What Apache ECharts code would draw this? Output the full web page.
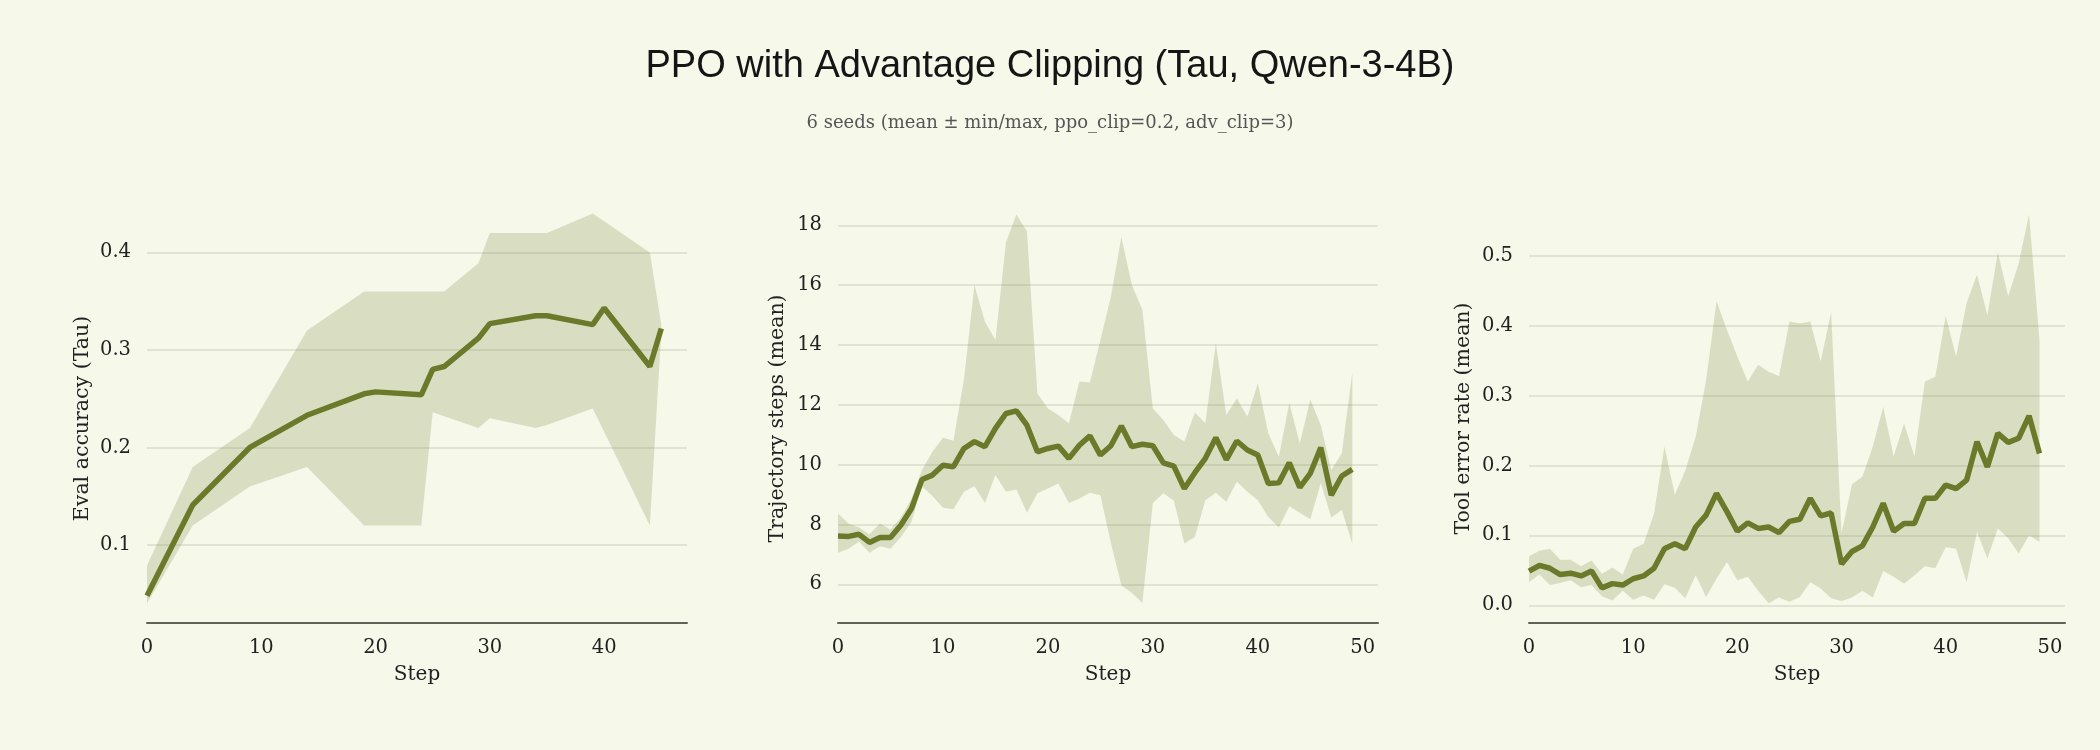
<!DOCTYPE html>
<html>
<head>
  <meta http-equiv="Content-Type" content="text/html; charset=utf-8"/>
  <title>PPO with Advantage Clipping</title>
  <script src="https://cdnjs.cloudflare.com/ajax/libs/echarts/6.0.0/echarts.min.js"></script>
</head>
<body style="margin:0;background:#f6f8ea">
<div id="main" style="width:2100px;height:750px;"></div>
<script type="text/javascript">
// eval accuracy (steps are irregular)
var evalSteps = [0, 4, 9, 14, 19, 20, 24, 25, 26, 29, 30, 34, 35, 39, 40, 44, 45];
var evalMean  = [0.048, 0.141, 0.200, 0.233, 0.255, 0.257, 0.254, 0.280, 0.283, 0.312, 0.327, 0.335, 0.335, 0.326, 0.343, 0.283, 0.322];
var evalMin   = [0.040, 0.120, 0.160, 0.180, 0.120, 0.120, 0.120, 0.236, 0.232, 0.220, 0.230, 0.220, 0.223, 0.240, 0.216, 0.120, 0.318];
var evalMax   = [0.079, 0.180, 0.220, 0.320, 0.360, 0.360, 0.360, 0.360, 0.360, 0.389, 0.420, 0.420, 0.420, 0.440, 0.432, 0.400, 0.326];

// trajectory steps, step 0..49
var trajMean = [7.61, 7.60, 7.67, 7.40, 7.56, 7.56, 7.98, 8.53, 9.50, 9.65,
                9.98, 9.93, 10.54, 10.77, 10.60, 11.21, 11.71, 11.80, 11.32, 10.43,
                10.54, 10.62, 10.21, 10.65, 10.96, 10.32, 10.63, 11.29, 10.60, 10.68,
                10.63, 10.06, 9.95, 9.20, 9.73, 10.21, 10.90, 10.17, 10.79, 10.49,
                10.32, 9.37, 9.39, 10.06, 9.24, 9.71, 10.57, 8.98, 9.62, 9.84];
var trajMin  = [7.05, 7.19, 7.42, 7.05, 7.27, 7.19, 7.58, 8.09, 9.28, 8.95,
                8.56, 8.51, 9.09, 9.28, 8.72, 9.65, 9.09, 9.17, 8.39, 9.04,
                9.20, 9.37, 8.72, 8.87, 9.06, 8.98, 7.38, 5.97, 5.71, 5.37,
                8.72, 9.04, 8.79, 7.36, 7.58, 8.81, 9.06, 8.76, 9.43, 9.09,
                8.81, 8.25, 7.90, 8.61, 8.39, 8.17, 9.39, 8.23, 8.48, 7.36];
var trajMax  = [8.37, 8.03, 7.90, 7.67, 8.03, 7.83, 8.23, 8.87, 9.82, 10.43,
                10.90, 10.80, 12.85, 16.01, 14.78, 14.17, 17.43, 18.36, 17.80, 12.38,
                11.88, 11.66, 11.38, 12.78, 12.75, 14.17, 15.62, 17.61, 16.01, 15.18,
                11.88, 11.49, 10.99, 10.77, 11.74, 11.38, 14.06, 11.66, 12.22, 11.60,
                12.72, 11.05, 10.26, 12.07, 10.71, 12.18, 11.32, 9.82, 10.38, 13.08];

// tool error rate, step 0..49
var toolMean = [0.049, 0.057, 0.053, 0.044, 0.046, 0.042, 0.049, 0.025, 0.031, 0.029,
                0.038, 0.042, 0.053, 0.081, 0.088, 0.081, 0.112, 0.129, 0.160, 0.134,
                0.106, 0.118, 0.110, 0.112, 0.104, 0.120, 0.123, 0.153, 0.128, 0.132,
                0.059, 0.077, 0.085, 0.112, 0.146, 0.106, 0.117, 0.117, 0.153, 0.153,
                0.172, 0.167, 0.179, 0.234, 0.198, 0.246, 0.233, 0.239, 0.271, 0.217];
var toolMin  = [0.033, 0.044, 0.029, 0.032, 0.036, 0.026, 0.029, 0.013, 0.007, 0.021,
                0.008, 0.014, 0.008, 0.030, 0.025, 0.010, 0.043, 0.012, 0.038, 0.062,
                0.036, 0.041, 0.021, 0.003, 0.011, 0.005, 0.012, 0.033, 0.024, 0.010,
                0.006, 0.011, 0.021, 0.011, 0.049, 0.041, 0.031, 0.043, 0.056, 0.053,
                0.083, 0.081, 0.033, 0.105, 0.067, 0.110, 0.096, 0.074, 0.100, 0.091];
var toolMax  = [0.070, 0.078, 0.081, 0.065, 0.065, 0.056, 0.064, 0.045, 0.054, 0.044,
                0.081, 0.088, 0.131, 0.227, 0.158, 0.193, 0.241, 0.322, 0.435, 0.394,
                0.356, 0.320, 0.344, 0.334, 0.328, 0.406, 0.403, 0.406, 0.349, 0.419,
                0.103, 0.173, 0.184, 0.227, 0.284, 0.213, 0.260, 0.213, 0.320, 0.327,
                0.414, 0.356, 0.432, 0.473, 0.415, 0.505, 0.442, 0.489, 0.559, 0.380];

var stepTicks = [[0, 10, 20, 30, 40], [0, 10, 20, 30, 40, 50], [0, 10, 20, 30, 40, 50]];
var yTicks = [[0.1, 0.2, 0.3, 0.4], [6, 8, 10, 12, 14, 16, 18], [0, 0.1, 0.2, 0.3, 0.4, 0.5]];
var yNames = ['Eval accuracy (Tau)', 'Trajectory steps (mean)', 'Tool error rate (mean)'];

var olive = '#6b7a2a';
var serif = '"DejaVu Serif", serif';

function steps(n){
  var s = [];
  for (var i = 0; i < n; i++) s.push(i);
  return s;
}

var panels = [
  {x: evalSteps, mean: evalMean, lo: evalMin, hi: evalMax, xmax: 47.25, ymin: 0.02, ymax: 0.4394, dec: 1},
  {x: steps(50), mean: trajMean, lo: trajMin, hi: trajMax, xmax: 51.45, ymin: 4.705, ymax: 18.38, dec: 0},
  {x: steps(50), mean: toolMean, lo: toolMin, hi: toolMax, xmax: 51.45, ymin: -0.0253, ymax: 0.5597, dec: 1}
];
var lefts = [147, 838, 1529];
var widths = [540, 540, 536];
var nameGaps = [54, 50, 55];

// min/max band as one polygon, drawn through the axes' coord system
function bandRender(p){
  return function(params, api){
    if (params.dataIndex !== 0) return null;
    var pts = [];
    for (var k = 0; k < p.x.length; k++) pts.push(api.coord([p.x[k], p.hi[k]]));
    for (var k = p.x.length - 1; k >= 0; k--) pts.push(api.coord([p.x[k], p.lo[k]]));
    return {type: 'polygon', shape: {points: pts}, style: {fill: olive, opacity: 0.2}, silent: true};
  };
}

var grids = [], xAxes = [], yAxes = [], series = [];
panels.forEach(function(p, i){
  grids.push({left: lefts[i], width: widths[i], top: 214, height: 409});
  xAxes.push({
    type: 'value', gridIndex: i, min: 0, max: p.xmax,
    name: 'Step', nameLocation: 'middle', nameGap: 42,
    nameTextStyle: {fontFamily: serif, fontSize: 20, color: '#222'},
    axisLine: {show: true, onZero: false, lineStyle: {color: '#5f6257', width: 2}},
    axisTick: {show: false, customValues: stepTicks[i]},
    axisLabel: {customValues: stepTicks[i], margin: 15, fontFamily: serif, fontSize: 19.5, color: '#222'},
    splitLine: {show: false}
  });
  yAxes.push({
    type: 'value', gridIndex: i, min: p.ymin, max: p.ymax,
    name: yNames[i], nameLocation: 'middle', nameGap: nameGaps[i],
    nameTextStyle: {fontFamily: serif, fontSize: 20.5, color: '#222'},
    axisLine: {show: false},
    axisTick: {show: false, customValues: yTicks[i]},
    axisLabel: {customValues: yTicks[i], margin: 16, fontFamily: serif, fontSize: 19.5, color: '#222',
      formatter: (function(d){ return function(v){ return v.toFixed(d); }; })(p.dec)},
    splitLine: {show: true, lineStyle: {color: '#e2e4d3', width: 2}}
  });
  var bandData = [], meanData = [];
  for (var k = 0; k < p.x.length; k++) {
    bandData.push([p.x[k], p.lo[k], p.hi[k]]);
    meanData.push([p.x[k], p.mean[k]]);
  }
  series.push({
    type: 'custom', xAxisIndex: i, yAxisIndex: i, data: bandData,
    encode: {x: 0, y: [1, 2]}, renderItem: bandRender(p), z: 1
  });
  series.push({
    type: 'line', xAxisIndex: i, yAxisIndex: i, data: meanData,
    symbol: 'none', lineStyle: {color: olive, width: 5.5}, z: 5
  });
});

var chart = echarts.init(document.getElementById('main'));
chart.setOption({
  backgroundColor: '#f6f8ea',
  animation: false,
  title: [
    {text: 'PPO with Advantage Clipping (Tau, Qwen-3-4B)', left: 'center', top: 43,
     textStyle: {fontFamily: '"Liberation Sans", sans-serif', fontSize: 38, fontWeight: 'normal', color: '#151515'}},
    {text: '6 seeds (mean \u00b1 min/max, ppo_clip=0.2, adv_clip=3)', left: 'center', top: 109,
     textStyle: {fontFamily: serif, fontSize: 18, fontWeight: 'normal', color: '#555'}}
  ],
  grid: grids,
  xAxis: xAxes,
  yAxis: yAxes,
  series: series
});
</script>
</body>
</html>
